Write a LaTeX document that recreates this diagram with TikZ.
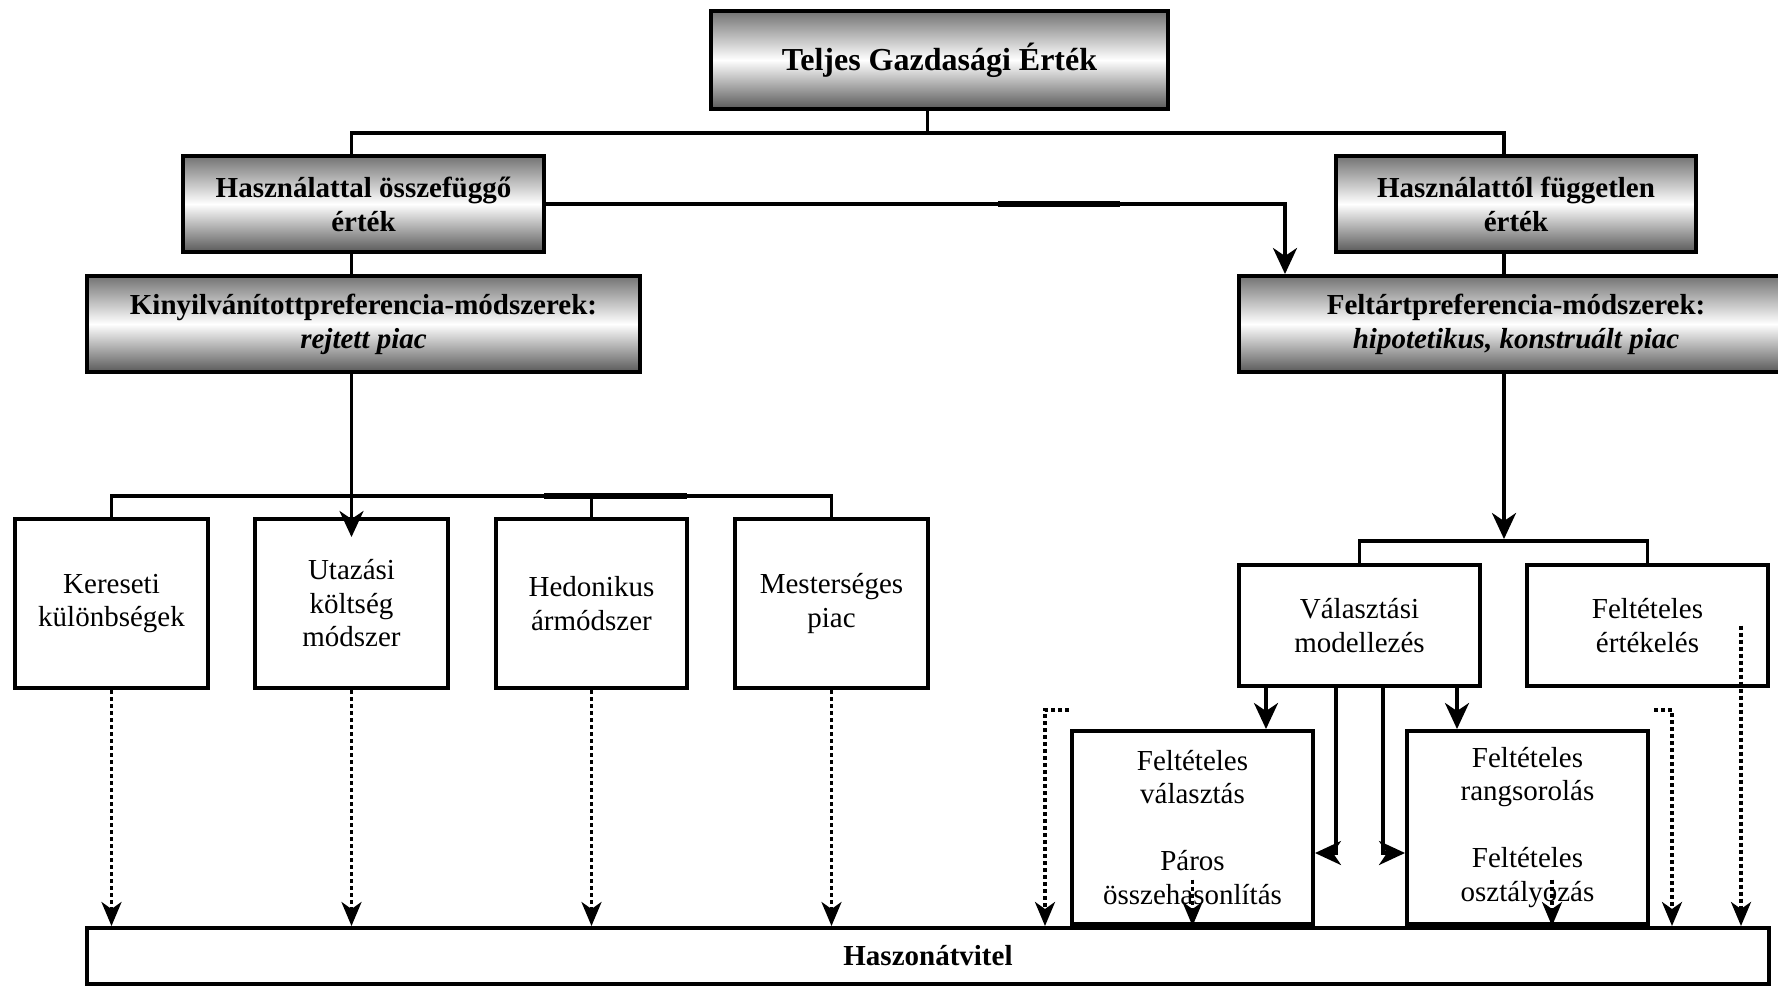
\documentclass[tikz,border=0pt]{standalone}
\usepackage{fontspec}
\setmainfont{Liberation Serif}
\usetikzlibrary{arrows.meta}
\begin{document}
\begin{tikzpicture}[x=1pt,y=-1pt,
  every node/.style={inner sep=0pt, align=center},
  hfont/.style={font=\fontsize{29}{34}\selectfont\bfseries},
  bfont/.style={font=\fontsize{29}{33.5}\selectfont},
  shadedbox/.style={draw, line width=4pt, top color=black!55, bottom color=black!65, middle color=white, hfont},
  plainbox/.style={draw, line width=4pt, fill=white, bfont},
  conn/.style={line width=3.5pt},
  arr/.style={conn, -{Stealth[length=26pt,width=24pt,inset=8pt]}},
  darr/.style={line width=3.5pt, dash pattern=on 4pt off 3pt, -{Stealth[length=24pt,width=20pt,inset=7pt]}}]
\useasboundingbox (0,0) rectangle (1778,986);
\clip (0,0) rectangle (1778,986);

% --- value hierarchy (shaded boxes)
\node[shadedbox, font=\fontsize{32}{38}\selectfont\bfseries, minimum width=457pt, minimum height=98pt] (teg) at (939.5,60) {Teljes Gazdasági Érték};
\node[shadedbox, minimum width=361pt, minimum height=96pt] (use) at (363.5,204) {Használattal összefüggő\\érték};
\node[shadedbox, minimum width=360pt, minimum height=96pt] (nonuse) at (1516,204) {Használattól független\\érték};
\node[shadedbox, minimum width=553pt, minimum height=96pt] (revealed) at (363.5,324) {Kinyilvánítottpreferencia-módszerek:\\\textit{rejtett piac}};
\node[shadedbox, minimum width=554pt, minimum height=96pt] (stated) at (1516,324) {Feltártpreferencia-módszerek:\\\textit{hipotetikus, konstruált piac}};

% --- revealed preference methods
\node[plainbox, minimum width=193pt, minimum height=169pt] (kereseti) at (111.5,603.5) {Kereseti\\különbségek};
\node[plainbox, minimum width=193pt, minimum height=169pt] (utazasi) at (351.5,603.5) {Utazási\\költség\\módszer};
\node[plainbox, minimum width=191pt, minimum height=169pt] (hedonikus) at (591.5,603.5) {Hedonikus\\ármódszer};
\node[plainbox, minimum width=193pt, minimum height=169pt] (mesterseges) at (831.5,603.5) {Mesterséges\\piac};

% --- stated preference methods
\node[plainbox, minimum width=241pt, minimum height=121pt] (valasztasi) at (1359.5,625.5) {Választási\\modellezés};
\node[plainbox, minimum width=241pt, minimum height=121pt] (ertekeles) at (1647.5,625.5) {Feltételes\\értékelés};
\node[plainbox, minimum width=241pt, minimum height=193pt] (fval) at (1192.5,827.5) {Feltételes\\választás\\[33.5pt]Páros\\összehasonlítás};
\node[plainbox, minimum width=241pt, minimum height=193pt] (frang) at (1527.5,827.5) {Feltételes\\rangsorolás\\[33.5pt]Feltételes\\osztályozás};

% --- benefit transfer
\node[plainbox, font=\fontsize{29}{34}\selectfont\bfseries, minimum width=1682pt, minimum height=56pt] (haszon) at (928,956) {Haszonátvitel};

% --- solid connectors
\coordinate (tbus) at (0,133);
\coordinate (lbus) at (0,496);
\coordinate (rbus) at (0,541);
\draw[conn] ([xshift=-12pt]teg.south) -- ([xshift=-12pt]teg.south |- tbus);
\draw[conn] (use.north -| utazasi.north) |- ([xshift=-12pt]nonuse.north |- tbus) -- ([xshift=-12pt]nonuse.north);
\draw[conn] (use.south -| utazasi.north) -- (revealed.north -| utazasi.north);
\draw[conn] ([xshift=-12pt]nonuse.south) -- ([xshift=-12pt]stated.north);
\draw[arr] (use.east) -| ([xshift=48pt]stated.north west);
\draw[line width=6pt] (998,204) -- (1120,204);

\draw[conn] (kereseti.north) -- (kereseti.north |- lbus) -- (mesterseges.north |- lbus) -- (mesterseges.north);
\draw[conn] (hedonikus.north |- lbus) -- (hedonikus.north);
\draw[line width=6pt] (544,496) -- (687,496);
\draw[arr] (revealed.south -| utazasi.north) -- ([yshift=-20pt]utazasi.north);

\draw[arr] ([xshift=-12pt]stated.south) -- ([xshift=-12pt]stated.south |- 0,539);
\draw[conn] (valasztasi.north) |- (ertekeles.north |- rbus) -- (ertekeles.north);

\draw[arr] ([xshift=-93.5pt]valasztasi.south) -- ([xshift=-93.5pt]valasztasi.south |- fval.north);
\draw[arr] ([xshift=97.5pt]valasztasi.south) -- ([xshift=97.5pt]valasztasi.south |- frang.north);
\draw[arr] ([xshift=-23.5pt]valasztasi.south) |- ([yshift=-25.5pt]fval.east);
\draw[arr] ([xshift=23.5pt]valasztasi.south) |- ([yshift=-25.5pt]frang.west);

% --- dotted transfer arrows
\foreach \b in {kereseti,utazasi,hedonikus,mesterseges}
  \draw[darr] (\b.south) -- (\b.south |- haszon.north);
\draw[darr] ([shift={(-1pt,19pt)}]fval.north west) -| ([xshift=-25pt]fval.north west |- haszon.north);
\draw[darr] ([shift={(4pt,19pt)}]frang.north east) -| ([xshift=22pt]frang.north east |- haszon.north);
\draw[darr] ([xshift=93.5pt]ertekeles.center) -- ([xshift=93.5pt]ertekeles.center |- haszon.north);
\draw[darr] ([yshift=-52pt]fval.center) -- (fval.center |- haszon.north);
\draw[darr] ([shift={(24.5pt,-52pt)}]frang.center) -- ([xshift=24.5pt]frang.center |- haszon.north);
\end{tikzpicture}
\end{document}
